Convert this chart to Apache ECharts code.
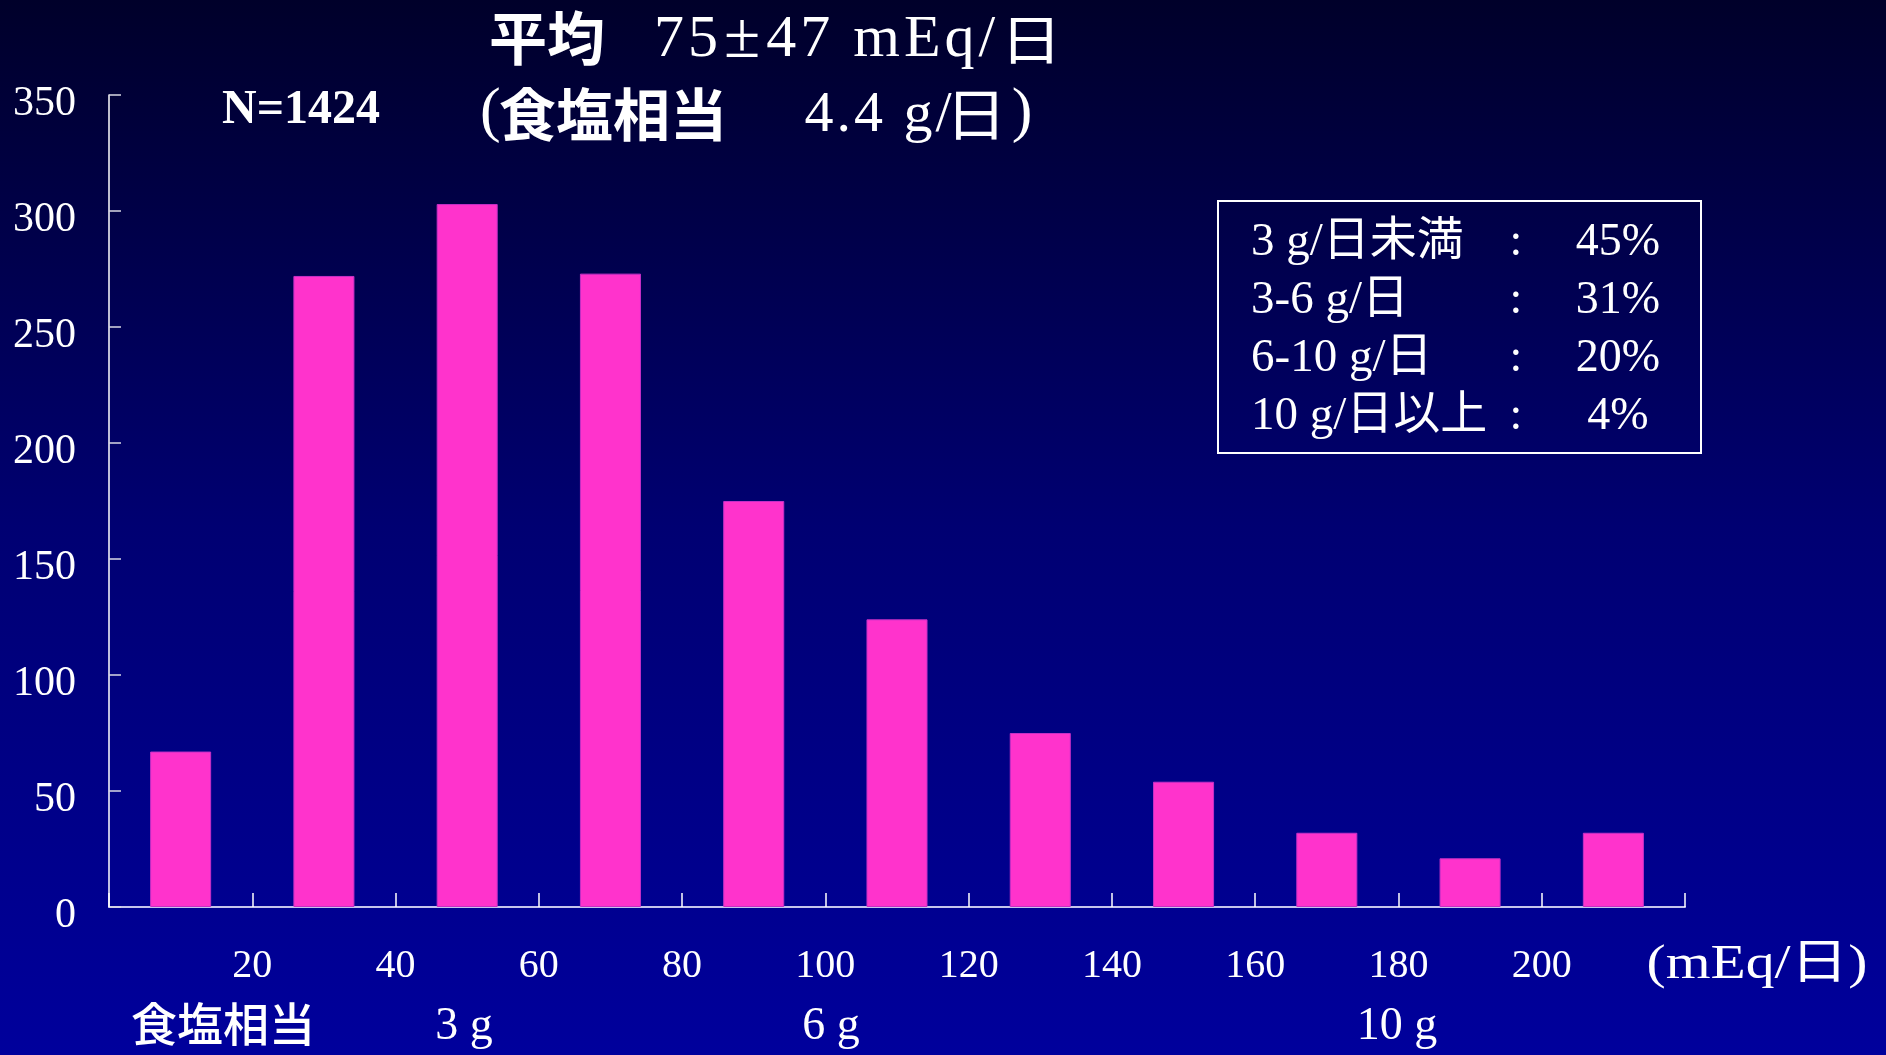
<!DOCTYPE html>
<html>
<head>
<meta charset="utf-8">
<title>尿中ナトリウム排泄量の分布</title>
<script src="https://cdn.jsdelivr.net/npm/echarts@6/dist/echarts.min.js"></script>
<style>
  html, body { margin: 0; padding: 0; background: #000050; }
  #chart { width: 1886px; height: 1055px; }
</style>
</head>
<body>
<div id="chart"></div>
<script>
// 24-hour urinary sodium excretion, histogram in 20 mEq/day bins
const binLabels = ['0-20', '20-40', '40-60', '60-80', '80-100', '100-120',
                   '120-140', '140-160', '160-180', '180-200', '200-220'];
const counts = [67, 272, 303, 273, 175, 124, 75, 54, 32, 21, 32];

// Axis scales and tick labels
const xRange = [0, 220];
const xStep = 20;
const xTickLabels = [20, 40, 60, 80, 100, 120, 140, 160, 180, 200];
const yRange = [0, 350];
const yStep = 50;

// Texts
const titleMean = ['平均', '75±47 mEq/', '日'];
const titleSalt = ['(', '食塩相当', '4.4 g/', '日', ')'];
const sampleSize = 'N=1424';
const unitLabel = '(mEq/日)';
const saltCaption = '食塩相当';
const saltMarks = ['3 g', '6 g', '10 g'];

// Share of subjects by salt intake
const shareLabels = ['3 g/日未満', '3-6 g/日', '6-10 g/日', '10 g/日以上'];
const shareValues = ['45%', '31%', '20%', '4%'];

const SERIF = '"Liberation Serif", "Times New Roman", serif';
const GOTHIC = '"Noto Sans CJK JP", sans-serif';
const MIXED = '"Liberation Serif", "Noto Sans CJK JP", serif';
const WHITE = '#ffffff';

// Wrap every character as its own rich token so the run gets extra tracking;
// the plus-minus sign gets a wider slot
function tracked(str) {
  return str.split('').map(c => (c === '±' ? '{p|' : '{t|') + c + '}').join('');
}

function textEl(x, y, text, font, align, extra) {
  const el = {
    type: 'text',
    x: x,
    y: y,
    silent: true,
    style: {
      text: text,
      font: font,
      fill: WHITE,
      align: align || 'left',
      verticalAlign: 'middle',
      textAlign: align || 'left',
      textVerticalAlign: 'middle'
    }
  };
  if (extra) {
    Object.keys(extra).forEach(k => {
      if (k === 'style') Object.assign(el.style, extra.style);
      else el[k] = extra[k];
    });
  }
  return el;
}

const graphics = [];

// Title, line 1
graphics.push(textEl(489, 38, titleMean[0], 'bold 58px ' + GOTHIC));
graphics.push(textEl(652, 40, tracked(titleMean[1]), '60px ' + SERIF, 'left', {
  style: {
    rich: {
      t: { fontSize: 60, fontFamily: SERIF, fill: WHITE, padding: [0, 2, 0, 2] },
      p: { fontSize: 66, fontFamily: SERIF, fill: WHITE, padding: [0, 4, 0, 4] }
    }
  }
}));
graphics.push(textEl(1031, 39, titleMean[2], '54px ' + GOTHIC, 'center', { scaleX: 1.15 }));

// Title, line 2
graphics.push(textEl(480, 114, titleSalt[0], '62px ' + SERIF));
graphics.push(textEl(499, 114, titleSalt[1], 'bold 57px ' + GOTHIC));
graphics.push(textEl(803, 116, tracked(titleSalt[2]), '58px ' + SERIF, 'left', {
  style: { rich: { t: { fontSize: 58, fontFamily: SERIF, fill: WHITE, padding: [0, 1.5, 0, 1.5] } } }
}));
graphics.push(textEl(976, 114, titleSalt[3], '56px ' + GOTHIC, 'center', { scaleX: 1.1 }));
graphics.push(textEl(1022, 114, titleSalt[4], '62px ' + SERIF, 'center'));

// Sample size
graphics.push(textEl(301, 111, sampleSize, 'bold 48px ' + SERIF, 'center'));

// Share box
graphics.push({
  type: 'rect',
  silent: true,
  shape: { x: 1218, y: 201, width: 483, height: 252 },
  style: { fill: 'rgba(0,0,0,0)', stroke: WHITE, lineWidth: 2 }
});
shareLabels.forEach((label, i) => {
  const y = 243 + i * 58;
  graphics.push(textEl(1251, y, label, '47px ' + MIXED));
  graphics.push(textEl(1516, y, ':', '46px ' + SERIF, 'center'));
  graphics.push(textEl(1618, y, shareValues[i], '46px ' + SERIF, 'center'));
});

// Unit at the end of the x axis
graphics.push(textEl(1757, 965, unitLabel, '48px ' + MIXED, 'center', { scaleX: 1.2 }));

// Salt-equivalent row under the axis
graphics.push(textEl(223, 1024, saltCaption, '500 46px ' + GOTHIC, 'center'));
const saltX = [464, 831, 1397];
saltMarks.forEach((m, i) => {
  graphics.push(textEl(saltX[i], 1027, m, '46px ' + SERIF, 'center'));
});

const chart = echarts.init(document.getElementById('chart'), null, { renderer: 'canvas' });

chart.setOption({
  animation: false,
  backgroundColor: {
    type: 'linear', x: 0, y: 0, x2: 0, y2: 1,
    colorStops: [
      { offset: 0, color: '#00002a' },
      { offset: 0.5, color: '#000072' },
      { offset: 1, color: '#00009c' }
    ]
  },
  grid: { left: 109, right: 201, top: 95, bottom: 148, containLabel: false },
  xAxis: [
    {
      // band axis that places the histogram bars
      type: 'category',
      data: binLabels,
      position: 'top',
      show: false
    },
    {
      // bin-edge scale with the mEq/day tick labels
      type: 'value',
      position: 'bottom',
      min: xRange[0],
      max: xRange[1],
      interval: xStep,
      axisLine: { show: true, onZero: false, lineStyle: { color: '#c4c4ec', width: 2 } },
      axisTick: { show: true, inside: true, length: 14, lineStyle: { color: WHITE, width: 1.5 } },
      axisLabel: {
        margin: 39,
        color: WHITE,
        fontFamily: SERIF,
        fontSize: 40,
        formatter: v => (xTickLabels.indexOf(v) >= 0 ? String(v) : '')
      },
      splitLine: { show: false }
    }
  ],
  yAxis: {
    type: 'value',
    min: yRange[0],
    max: yRange[1],
    interval: yStep,
    axisLine: { show: true, onZero: false, lineStyle: { color: WHITE, width: 1.5 } },
    axisTick: { show: true, inside: true, length: 12, lineStyle: { color: '#d8d8e4', width: 1.5 } },
    axisLabel: {
      margin: 33,
      color: WHITE,
      fontFamily: SERIF,
      fontSize: 42,
      verticalAlign: 'top',
      lineHeight: 18
    },
    splitLine: { show: false }
  },
  series: [{
    type: 'bar',
    xAxisIndex: 0,
    yAxisIndex: 0,
    data: counts,
    barWidth: '42.6%',
    itemStyle: { color: '#ff33cc', borderColor: '#c530c6', borderWidth: 1 }
  }],
  graphic: graphics
});
</script>
</body>
</html>
